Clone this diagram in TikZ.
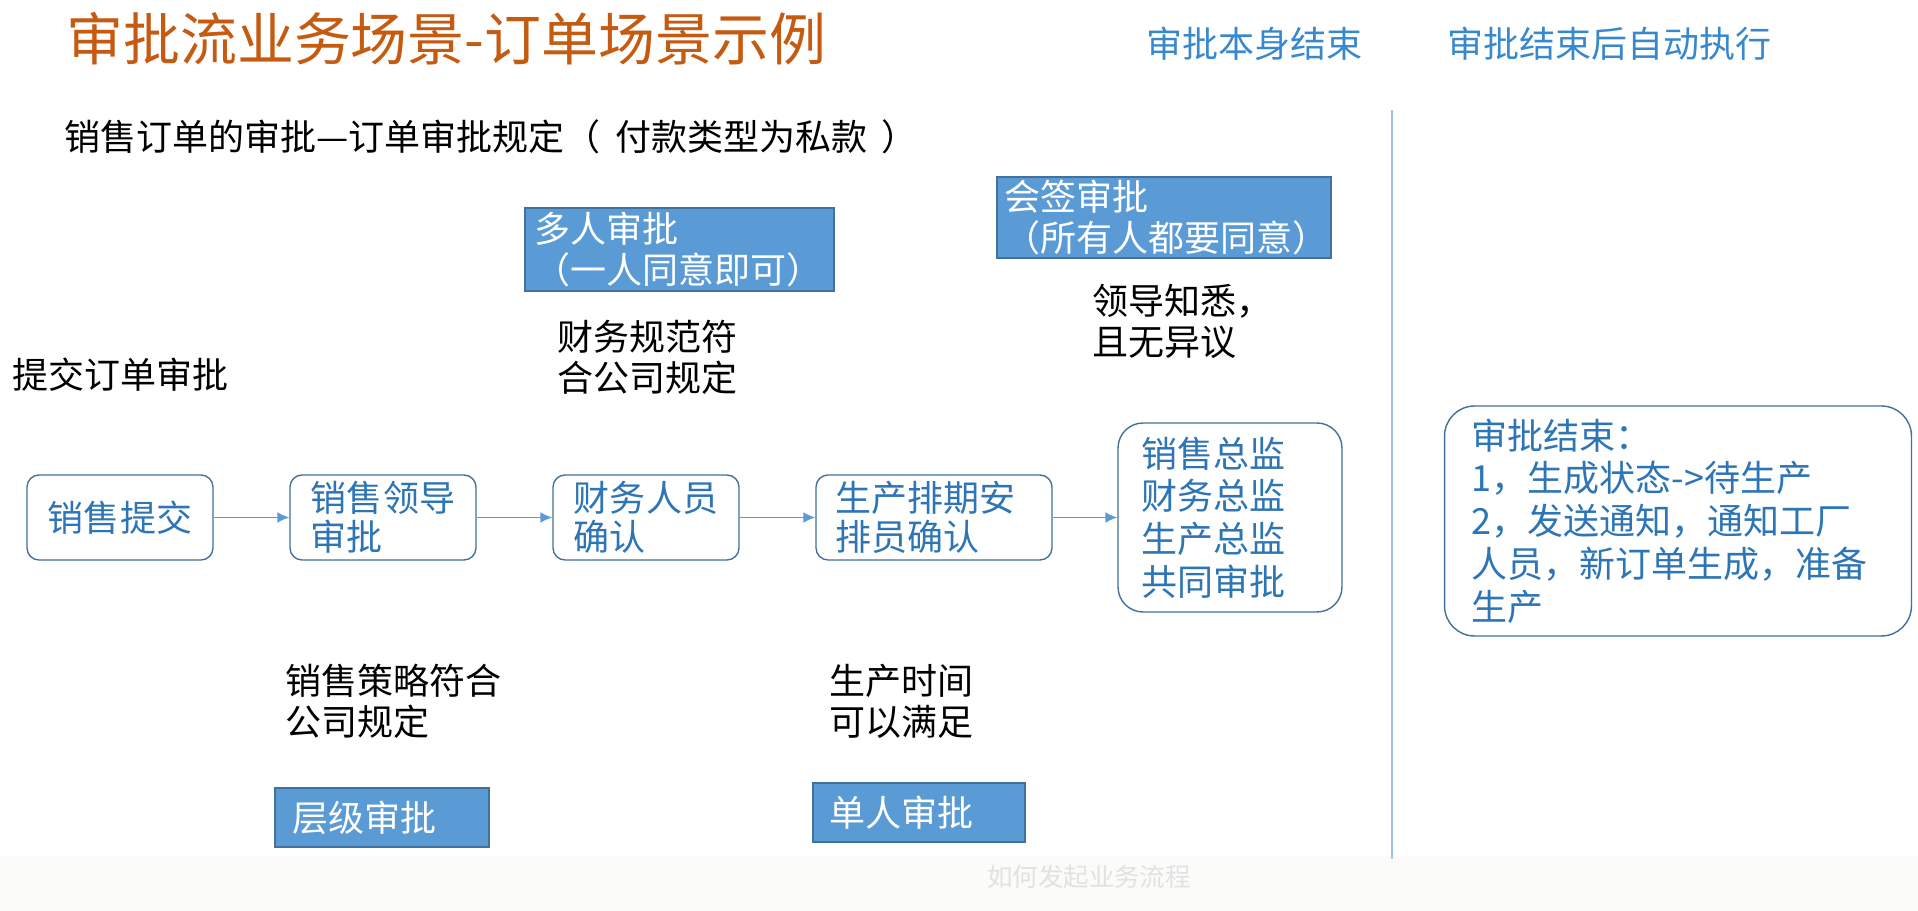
\documentclass[tikz,border=0pt]{standalone}
\usepackage{fontspec}
\setmainfont{Noto Sans CJK SC}
\usetikzlibrary{arrows.meta}
\definecolor{titleorange}{RGB}{197,90,17}
\definecolor{textblue}{RGB}{46,117,182}
\definecolor{headblue}{RGB}{56,136,206}
\definecolor{edgeblue}{RGB}{65,113,156}
\definecolor{fillblue}{RGB}{91,155,213}
\definecolor{lineblue}{RGB}{157,195,230}
\definecolor{markgray}{RGB}{226,226,226}
\definecolor{bandgray}{RGB}{251,251,249}

\begin{document}
\begin{tikzpicture}[
  x=0.02cm, y=-0.02cm,
  flowbox/.style={rectangle, rounded corners=0.24cm, draw=edgeblue, fill=white,
                  text=textblue, line width=0.8pt, align=left, inner sep=0pt,
                  minimum width=3.72cm, minimum height=1.7cm,
                  font=\fontsize{20.5}{22}\selectfont},
  bigflowbox/.style={flowbox, rounded corners=0.5cm,
                     font=\fontsize{20.5}{24.3}\selectfont},
  bluebox/.style={rectangle, draw=edgeblue, fill=fillblue, text=white,
                  line width=0.8pt, align=left, inner sep=0pt,
                  font=\fontsize{20.5}{23.5}\selectfont},
  note/.style={anchor=north west, inner sep=0pt, align=left,
               font=\fontsize{20.5}{23}\selectfont},
  head/.style={anchor=north west, inner sep=0pt, text=headblue,
               font=\fontsize{20.5}{23}\selectfont},
  flowarrow/.style={draw=fillblue, line width=1pt,
                    -{Latex[length=0.24cm, width=0.22cm]}}
]
  \fill[white] (0,0) rectangle (1918,911);
  \useasboundingbox (0,0) rectangle (1918,911);
  \fill[bandgray] (0,856) rectangle (1918,911);

  \node[anchor=north west, inner sep=0pt, text=titleorange,
        font=\fontsize{32.4}{36}\selectfont] (title) at (66,12)
    {审批流业务场景-订单场景示例};
  \node[head] (stagehead) at (1146,27) {审批本身结束};
  \node[head] (autohead) at (1447,27) {审批结束后自动执行};
  \node[note] (subtitle) at (64,119)
    {销售订单的审批—订单审批规定（\hspace{0.4em}付款类型为私款\hspace{0.4em}）};

  \draw[lineblue, line width=1.2pt] (1392,110) -- (1392,859);

  \node[flowbox, align=center] (submit) at (120,517.5) {销售提交};
  \node[flowbox] (leader) at (383,517.5) {销售领导\\审批};
  \node[flowbox] (finance) at (646,517.5) {财务人员\\确认};
  \node[flowbox, minimum width=4.72cm, text width=3.94cm] (prod)
    at (934,517.5) {生产排期安\\排员确认};
  \node[bigflowbox, minimum width=4.48cm, minimum height=3.78cm,
        text width=3.56cm] (directors) at (1230,517.5)
    {销售总监\\财务总监\\生产总监\\共同审批};
  \node[bigflowbox, rounded corners=0.6cm, minimum width=9.34cm,
        minimum height=4.6cm, text width=8.26cm] (finish) at (1678,521)
    {审批结束：\\1，生成状态->待生产\\2，发送通知，通知工厂\\人员，新订单生成，准备\\生产};

  \foreach \a/\b in {submit/leader, leader/finance, finance/prod, prod/directors} {
    \draw[flowarrow] (\a) -- (\b);
  }

  \node[bluebox, minimum width=6.18cm, minimum height=1.66cm,
        text width=5.82cm] (multi) at (679.5,249.5)
    {多人审批\\（一人同意即可）};
  \node[bluebox, minimum width=6.68cm, minimum height=1.62cm,
        text width=6.4cm] (cosign) at (1164,217.5)
    {会签审批\\（所有人都要同意）};
  \node[bluebox, minimum width=4.28cm, minimum height=1.18cm,
        text width=3.6cm] (tier) at (382,817.5) {层级审批};
  \node[bluebox, minimum width=4.24cm, minimum height=1.18cm,
        text width=3.6cm] (single) at (919,812.5) {单人审批};

  \node[note] (submitnote) at (12,358) {提交订单审批};
  \node[note] (financenote) at (557,320) {财务规范符\\合公司规定};
  \node[note] (leadernote) at (1092,284) {领导知悉，\\且无异议};
  \node[note] (salesnote) at (285,664) {销售策略符合\\公司规定};
  \node[note] (prodnote) at (829,664) {生产时间\\可以满足};

  \node[text=markgray, inner sep=0pt, font=\fontsize{14.5}{16}\selectfont]
    (mark) at (1089,877) {如何发起业务流程};
\end{tikzpicture}
\end{document}
